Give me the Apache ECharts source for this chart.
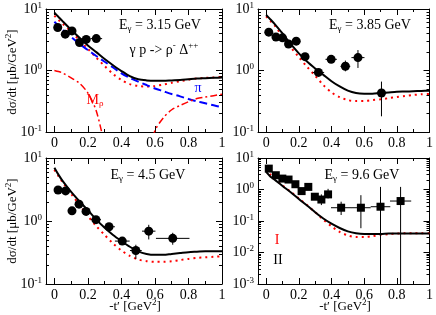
<!DOCTYPE html>
<html><head><meta charset="utf-8">
<script src="https://cdn.jsdelivr.net/npm/echarts@6/dist/echarts.min.js"></script>
<style>html,body{margin:0;padding:0;background:#fff}#c{width:436px;height:315px}</style>
</head><body><div id="c"></div>
<script>
// ---------- data ----------
const curveT = [0,0.025,0.05,0.1,0.15,0.2,0.25,0.3,0.35,0.4,0.45,0.5,0.55,0.6,0.65,0.7,0.75,0.8,0.85,0.9,0.95,1.0];
const xTickLabels = [0,0.2,0.4,0.6,0.8,1];
const xMinorTicks = [0.1,0.3,0.5,0.7,0.9];
const yDecadesTop = [0.1,1,10];
const yDecadesBR = [0.001,0.01,0.1,1,10];
const energies = ['3.15','3.85','4.5','9.6'];

// panel 1 (3.15 GeV)
const p1ModelII = [8.7,7.4,6.3,4.6,3.4,2.56,1.99,1.54,1.22,0.98,0.81,0.72,0.69,0.68,0.68,0.69,0.70,0.72,0.74,0.75,0.76,0.77];
const p1ModelI  = [7.8,6.6,5.7,4.3,3.1,2.25,1.62,1.18,0.88,0.70,0.60,0.56,0.55,0.56,0.59,0.63,0.67,0.71,0.74,0.76,0.77,0.78];
const p1Pion    = [6.2,5.3,4.6,3.5,2.7,2.15,1.72,1.39,1.12,0.90,0.76,0.66,0.58,0.51,0.46,0.415,0.38,0.344,0.316,0.293,0.272,0.252];
const p1Mrho    = [1.0,0.96,0.91,0.76,0.62,0.43,0.22,0.06,0.015,0.001,0.004,0.012,0.035,0.105,0.17,0.23,0.27,0.31,0.35,0.37,0.39,0.41];
const p1PtT  = [0.02,0.065,0.105,0.15,0.19,0.25];
const p1PtY  = [5.0,3.9,4.4,2.85,3.2,3.3];
const p1PtDT = [0,0,0,0,0.02,0.035];
const p1PtLo = [5.0,3.9,4.4,2.85,3.2,3.3];
const p1PtHi = [5.0,3.9,4.4,2.85,3.2,3.3];

// panel 2 (3.85 GeV)
const p2ModelII = [8.0,6.8,5.8,4.0,2.7,1.9,1.4,1.08,0.85,0.67,0.55,0.47,0.43,0.42,0.42,0.43,0.44,0.45,0.455,0.46,0.465,0.47];
const p2ModelI  = [7.6,6.4,5.5,3.6,2.4,1.65,1.15,0.82,0.58,0.44,0.37,0.33,0.32,0.32,0.33,0.34,0.355,0.37,0.385,0.40,0.41,0.415];
const p2PtT  = [0.016,0.06,0.1,0.137,0.184,0.238,0.32,0.398,0.485,0.562,0.706];
const p2PtY  = [4.2,3.5,3.4,2.7,3.0,1.68,0.93,1.52,1.17,1.62,0.43];
const p2PtDT = [0,0,0,0,0,0.025,0.035,0.035,0.03,0.04,0.03];
const p2PtLo = [4.2,3.5,3.4,2.7,3.0,1.68,0.85,1.4,0.97,1.1,0.18];
const p2PtHi = [4.2,3.5,3.4,2.7,3.0,1.68,1.0,1.65,1.45,2.15,0.66];

// panel 3 (4.5 GeV)
const p3ModelII = [7.0,5.4,4.3,2.9,2.05,1.48,1.05,0.78,0.6,0.48,0.39,0.33,0.30,0.29,0.29,0.30,0.31,0.32,0.325,0.33,0.33,0.33];
const p3ModelI  = [6.5,5.1,4.1,2.7,1.8,1.2,0.83,0.6,0.44,0.34,0.28,0.245,0.23,0.225,0.225,0.23,0.24,0.25,0.26,0.265,0.27,0.275];
const p3PtT  = [0.022,0.067,0.105,0.147,0.189,0.248,0.326,0.405,0.486,0.563,0.706];
const p3PtY  = [3.1,3.0,1.45,1.85,1.42,1.05,0.81,0.48,0.34,0.69,0.53];
const p3PtDT = [0,0,0,0,0,0.03,0.035,0.044,0.035,0.04,0.1];
const p3PtLo = [3.1,3.0,1.45,1.85,1.42,1.05,0.81,0.44,0.25,0.51,0.42];
const p3PtHi = [3.1,3.0,1.45,1.85,1.42,1.05,0.81,0.52,0.42,0.87,0.65];

// panel 4 (9.6 GeV)
const p4ModelII = [3.6,2.6,2.1,1.3,0.82,0.5,0.31,0.19,0.12,0.082,0.06,0.047,0.041,0.039,0.039,0.039,0.04,0.04,0.04,0.04,0.04,0.04];
const p4ModelI  = [4.5,3.0,2.2,1.35,0.85,0.52,0.32,0.19,0.11,0.068,0.045,0.035,0.031,0.031,0.033,0.036,0.038,0.04,0.041,0.041,0.041,0.041];
const p4PtT  = [0.016,0.059,0.099,0.137,0.179,0.217,0.258,0.298,0.338,0.379,0.459,0.58,0.70,0.823];
const p4PtY  = [4.6,2.84,2.22,2.07,1.47,0.89,1.21,0.59,0.48,0.70,0.264,0.264,0.284,0.43];
const p4PtDT = [0,0,0,0,0,0,0,0,0,0,0.062,0.06,0.06,0.065];
const p4PtLo = [4.6,2.84,2.22,2.07,1.47,0.89,1.21,0.5,0.32,0.52,0.155,0.059,0.0001,0.0001];
const p4PtHi = [4.6,2.84,2.22,2.07,1.47,0.89,1.21,0.7,0.70,1.05,0.41,0.66,1.21,1.21];

// ---------- chart ----------
const FONT = '"Liberation Serif","DejaVu Serif",serif';
const X_MIN = -0.05, X_MAX = 1;
const zip = (a,b) => a.map((v,i)=>[v,b[i]]);
function minorOf(decades){
  const out=[];
  for (let d=0; d<decades.length-1; d++) for (let m=2;m<=9;m++) out.push(+(decades[d]*m).toPrecision(3));
  return out;
}
const fmtX = v => String(+(+v).toFixed(1));
const fmtY = v => '{b|10}{e|' + Math.round(Math.log10(v)) + '}';

const panels = [
  {grid:{left:46,top:9,width:176,height:123}, yMin:0.1, yMax:10, dec:yDecadesTop, II:p1ModelII, I:p1ModelI,
   pt:[p1PtT,p1PtY,p1PtDT,p1PtLo,p1PtHi], symbol:'circle', size:9},
  {grid:{left:258,top:9,width:174,height:123}, yMin:0.1, yMax:10, dec:yDecadesTop, II:p2ModelII, I:p2ModelI,
   pt:[p2PtT,p2PtY,p2PtDT,p2PtLo,p2PtHi], symbol:'circle', size:9},
  {grid:{left:46,top:158,width:176,height:126}, yMin:0.1, yMax:10, dec:yDecadesTop, II:p3ModelII, I:p3ModelI,
   pt:[p3PtT,p3PtY,p3PtDT,p3PtLo,p3PtHi], symbol:'circle', size:9},
  {grid:{left:258,top:158,width:174,height:126}, yMin:0.001, yMax:10, dec:yDecadesBR, II:p4ModelII, I:p4ModelI,
   pt:[p4PtT,p4PtY,p4PtDT,p4PtLo,p4PtHi], symbol:'rect', size:8}
];

const grids=[], xAxes=[], yAxes=[], series=[];
const lineCol = {color:'#000', width:1};
panels.forEach((p,gi)=>{
  grids.push(Object.assign({containLabel:false}, p.grid));
  const xb = {type:'value', gridIndex:gi, min:X_MIN, max:X_MAX, splitLine:{show:false}};
  xAxes.push(
    Object.assign({}, xb, {position:'bottom', axisLine:{show:true,onZero:false,lineStyle:lineCol},
      axisTick:{show:true,inside:true,length:6,customValues:xTickLabels,lineStyle:lineCol},
      axisLabel:{show:true,customValues:xTickLabels,formatter:fmtX,color:'#000',fontFamily:FONT,fontSize:14,margin:4}}),
    Object.assign({}, xb, {position:'bottom', axisLine:{show:false,onZero:false},
      axisTick:{show:true,inside:true,length:3,customValues:xMinorTicks,lineStyle:lineCol}, axisLabel:{show:false}}),
    Object.assign({}, xb, {position:'top', axisLine:{show:true,onZero:false,lineStyle:lineCol},
      axisTick:{show:true,inside:true,length:6,customValues:xTickLabels,lineStyle:lineCol}, axisLabel:{show:false}}),
    Object.assign({}, xb, {position:'top', axisLine:{show:false,onZero:false},
      axisTick:{show:true,inside:true,length:3,customValues:xMinorTicks,lineStyle:lineCol}, axisLabel:{show:false}})
  );
  const yb = {type:'log', logBase:10, gridIndex:gi, min:p.yMin, max:p.yMax, splitLine:{show:false}};
  const minor = minorOf(p.dec);
  yAxes.push(
    Object.assign({}, yb, {position:'left', axisLine:{show:true,onZero:false,lineStyle:lineCol},
      axisTick:{show:true,inside:true,length:6,customValues:p.dec,lineStyle:lineCol},
      axisLabel:{show:true,customValues:p.dec,formatter:fmtY,margin:4,
        rich:{b:{fontFamily:FONT,fontSize:14,color:'#000',lineHeight:16},e:{fontFamily:FONT,fontSize:9,color:'#000',verticalAlign:'top'}}}}),
    Object.assign({}, yb, {position:'left', axisLine:{show:false,onZero:false},
      axisTick:{show:true,inside:true,length:3,customValues:minor,lineStyle:lineCol}, axisLabel:{show:false}}),
    Object.assign({}, yb, {position:'right', axisLine:{show:true,onZero:false,lineStyle:lineCol},
      axisTick:{show:true,inside:true,length:6,customValues:p.dec,lineStyle:lineCol}, axisLabel:{show:false}}),
    Object.assign({}, yb, {position:'right', axisLine:{show:false,onZero:false},
      axisTick:{show:true,inside:true,length:3,customValues:minor,lineStyle:lineCol}, axisLabel:{show:false}})
  );
  const ax = {xAxisIndex:gi*4, yAxisIndex:gi*4};
  const mkLine = (data,color,type,width) => Object.assign({type:'line', data:zip(curveT,data), showSymbol:false, smooth:0.3,
    clip:true, lineStyle:{color,type,width,opacity:1}, silent:true, z:2}, ax);
  series.push(mkLine(p.I,'#ff0000',[2,4],2));
  if (gi===0){
    series.push(mkLine(p1Pion,'#0000ff',[8,4],2));
    series.push(mkLine(p1Mrho,'#ff0000',[7,3,2,3],1.5));
  }
  series.push(mkLine(p.II,'#000000','solid',2));
  const [T,Y,DT,LO,HI] = p.pt;
  const yMin = p.yMin;
  series.push(Object.assign({type:'custom', clip:true, z:3, silent:true,
    data: T.map((t,i)=>[t,Y[i],DT[i],LO[i],HI[i]]),
    encode:{x:0,y:1},
    renderItem:(params,api)=>{
      const x=api.value(0), y=api.value(1), xe=api.value(2), lo=Math.max(api.value(3),yMin), hi=api.value(4);
      const ch=[];
      if (xe>0){ const a=api.coord([x-xe,y]), b=api.coord([x+xe,y]);
        ch.push({type:'line',shape:{x1:a[0],y1:a[1],x2:b[0],y2:b[1]},style:{stroke:'#000',lineWidth:1}}); }
      if (hi>lo){ const a=api.coord([x,lo]), b=api.coord([x,hi]);
        ch.push({type:'line',shape:{x1:a[0],y1:a[1],x2:b[0],y2:b[1]},style:{stroke:'#000',lineWidth:1}}); }
      return {type:'group',children:ch};
    }}, ax));
  series.push(Object.assign({type:'scatter', data:zip(T,Y), symbol:p.symbol, symbolSize:p.size,
    itemStyle:{color:'#000', opacity:1}, z:4, silent:true}, ax));
});

const R = {
  n:{fontFamily:FONT,fontSize:14,fill:'#000',lineHeight:17},
  s:{fontFamily:FONT,fontSize:9,fill:'#000',verticalAlign:'bottom'},
  e:{fontFamily:FONT,fontSize:9,fill:'#000',verticalAlign:'top'}
};
function richCol(col, size){
  return {n:Object.assign({},R.n,{fill:col},size?{fontSize:size}:{}), s:Object.assign({},R.s,{fill:col}), e:Object.assign({},R.e,{fill:col})};
}
function txt(x,y,text,col,extra){
  return Object.assign({type:'text', x, y, z:100, silent:true,
    style:{text, rich:richCol(col||'#000', extra && extra.size), align:'center', verticalAlign:'middle'}}, extra && extra.rot ? {rotation:extra.rot} : {});
}
const eLabel = e => '{n|E}{s|γ}{n| = ' + e + ' GeV}';
const graphic = [
  txt(160,25,eLabel(energies[0])),
  txt(164,50,'{n|γ p -> ρ}{e|-}{n| Δ}{e|++}'),
  txt(95,100,'{n|M}{s|ρ}','#ff0000'),
  txt(198,88,'{n|π}','#0000ff'),
  txt(370,25,eLabel(energies[1])),
  txt(148,175,eLabel(energies[2])),
  txt(362,175,eLabel(energies[3])),
  txt(277,240,'{n|I}','#ff0000'),
  txt(278,260,'{n|II}','#000'),
  txt(13,72,'{n|dσ/dt [μb/GeV}{e|2}{n|]}','#000',{rot:Math.PI/2, size:13}),
  txt(13,221,'{n|dσ/dt [μb/GeV}{e|2}{n|]}','#000',{rot:Math.PI/2, size:13}),
  txt(135,307,'{n|-t′ [GeV}{e|2}{n|]}','#000',{size:13}),
  txt(345,307,'{n|-t′ [GeV}{e|2}{n|]}','#000',{size:13})
];

const chart = echarts.init(document.getElementById('c'), null, {renderer:'canvas'});
chart.setOption({animation:false, backgroundColor:'#fff', grid:grids, xAxis:xAxes, yAxis:yAxes, series, graphic});
</script></body></html>
